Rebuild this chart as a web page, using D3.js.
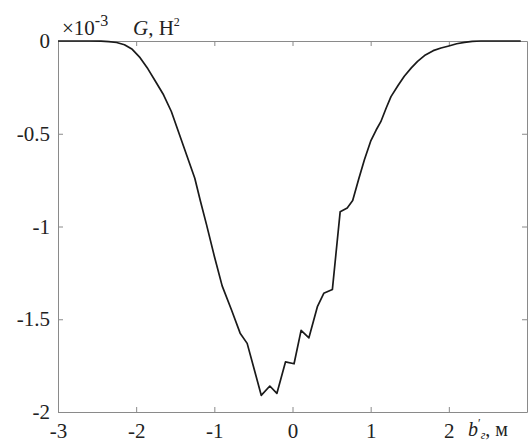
<!DOCTYPE html>
<html>
<head>
<meta charset="utf-8">
<script src="https://cdn.jsdelivr.net/npm/d3@7"></script>
<style>
  body { margin: 0; background: #fff; }
  svg { display: block; }
  .axis path, .axis line { stroke: #8a8a8a; stroke-width: 1; }
</style>
</head>
<body>
<script>
// values (G in units of 1e-3 N^2)
var bValues = [-3, -2.6, -2.45, -2.35, -2.25, -2.15, -2.05, -1.95, -1.85, -1.75, -1.65, -1.55,
  -1.45, -1.35, -1.25, -1.18, -1.10, -1.0, -0.90, -0.78, -0.67, -0.58, -0.49, -0.40, -0.29,
  -0.20, -0.09, 0.02, 0.11, 0.21, 0.32, 0.40, 0.51, 0.61, 0.70, 0.77, 0.85, 0.92, 1.0,
  1.07, 1.13, 1.20, 1.26, 1.35, 1.43, 1.52, 1.60, 1.70, 1.80, 1.90, 2.0, 2.1, 2.2, 2.3, 2.41, 2.6, 2.92];
var gValues = [0, 0, -0.001, -0.003, -0.008, -0.02, -0.045, -0.09, -0.15, -0.22, -0.29, -0.38,
  -0.50, -0.62, -0.74, -0.86, -0.99, -1.16, -1.32, -1.45, -1.575, -1.63, -1.77, -1.91, -1.86,
  -1.90, -1.73, -1.74, -1.56, -1.60, -1.43, -1.36, -1.34, -0.92, -0.90, -0.86, -0.74, -0.64, -0.54,
  -0.48, -0.435, -0.36, -0.30, -0.24, -0.19, -0.145, -0.11, -0.075, -0.052, -0.038, -0.027, -0.015, -0.007, -0.002, 0, 0, 0];
var xTicks = [-3, -2, -1, 0, 1, 2];
var yTicks = [0, -0.5, -1, -1.5, -2];

var width = 532, height = 443;
var margin = {top: 41, right: 5, bottom: 31, left: 58};
var serif = "'Liberation Serif', 'Times New Roman', serif";

var svg = d3.select("body").append("svg")
    .attr("width", width)
    .attr("height", height)
    .attr("font-family", serif);

var x = d3.scaleLinear().domain([-3, 3]).range([margin.left, width - margin.right]);
var y = d3.scaleLinear().domain([-2, 0]).range([height - margin.bottom, margin.top]);

var fmt = function(d) { return String(d); };

function styleAxis(g) {
  g.attr("font-family", serif).attr("font-size", 21);
  g.selectAll("text").attr("fill", "#222");
}

// bottom axis with labels
svg.append("g").attr("class", "axis")
    .attr("transform", "translate(0," + y(-2) + ")")
    .call(d3.axisBottom(x).tickValues(xTicks).tickFormat(fmt).tickSize(-5).tickSizeOuter(0).tickPadding(11))
    .call(styleAxis);

// left axis with labels
svg.append("g").attr("class", "axis")
    .attr("transform", "translate(" + x(-3) + ",0)")
    .call(d3.axisLeft(y).tickValues(yTicks).tickFormat(fmt).tickSize(-5).tickSizeOuter(0).tickPadding(8))
    .call(styleAxis);

// top and right frame, ticks only
svg.append("g").attr("class", "axis")
    .attr("transform", "translate(0," + y(0) + ")")
    .call(d3.axisTop(x).tickValues(xTicks).tickFormat("").tickSize(-5).tickSizeOuter(0));
svg.append("g").attr("class", "axis")
    .attr("transform", "translate(" + x(3) + ",0)")
    .call(d3.axisRight(y).tickValues(yTicks).tickFormat("").tickSize(-5).tickSizeOuter(0));

// the curve
var line = d3.line()
    .x(function(d, i) { return x(bValues[i]); })
    .y(function(d) { return y(d); });

svg.append("path")
    .datum(gValues)
    .attr("fill", "none")
    .attr("stroke", "#1a1a1a")
    .attr("stroke-width", 1.7)
    .attr("stroke-linejoin", "round")
    .attr("d", line);

// multiplier and axis labels
var mult = svg.append("text").attr("x", 62).attr("y", 35)
    .attr("font-size", 21).attr("fill", "#222");
mult.append("tspan").text("\u00d710");
mult.append("tspan").attr("dy", -9).attr("font-size", 16).text("-3");

var gl = svg.append("text").attr("x", 133).attr("y", 35)
    .attr("font-size", 21).attr("fill", "#222");
gl.append("tspan").attr("font-style", "italic").text("G");
gl.append("tspan").text(", Н");
gl.append("tspan").attr("dy", -9).attr("font-size", 12).text("2");

var bl = svg.append("text").attr("x", 468).attr("y", 436)
    .attr("font-size", 20).attr("fill", "#222");
bl.append("tspan").attr("font-style", "italic").text("b");
bl.append("tspan").attr("dy", -9).attr("font-size", 12).text("\u2032");
bl.append("tspan").attr("dy", 12).attr("font-size", 12).attr("font-style", "italic").text("г");
bl.append("tspan").attr("dy", -3).text(", м");
</script>
</body>
</html>
